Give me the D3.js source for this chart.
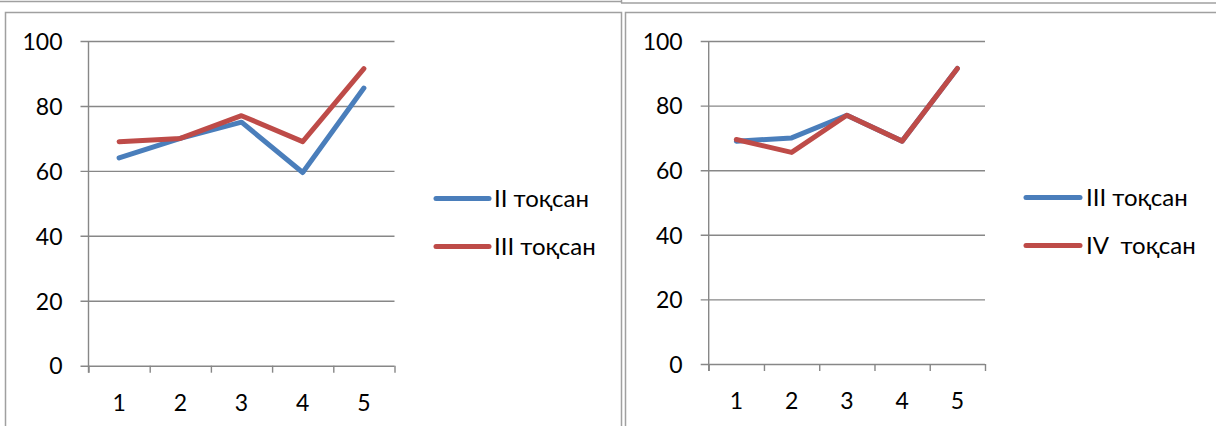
<!DOCTYPE html>
<html>
<head>
<meta charset="utf-8">
<script src="https://cdn.jsdelivr.net/npm/d3@7"></script>
<style>
  html, body { margin: 0; padding: 0; background: #fff; }
  svg { display: block; }
  text { font-family: Lato, "Noto Sans", sans-serif; fill: #000; }
</style>
</head>
<body>
<svg id="chart" width="1216" height="426"></svg>
<script>
// ---- data ----
const categories = ["1", "2", "3", "4", "5"];
const yTicks = [0, 20, 40, 60, 80, 100];
const leftSeriesNames = ["II тоқсан", "III тоқсан"];
const leftII = [64, 70, 75, 59.5, 85.5];
const leftIII = [69, 70, 77, 69, 91.5];
const rightSeriesNames = ["III тоқсан", "IV  тоқсан"];
const rightIII = [69, 70, 77, 69, 91.5];
const rightIV = [69.5, 65.5, 77, 69, 91.5];

const BLUE = "#4a7ebb";
const RED = "#be4b48";
const GRID = "#878787";
const FRAME = "#a0a0a0";

const svg = d3.select("#chart");

// ---- frames ----
const frames = svg.append("g").attr("fill", "none").attr("stroke", FRAME).attr("stroke-width", 1.5);
frames.append("line").attr("x1", 0).attr("x2", 621).attr("y1", 1.5).attr("y2", 1.5);
frames.append("line").attr("x1", 621.5).attr("x2", 621.5).attr("y1", 0).attr("y2", 3);
frames.append("line").attr("x1", 621).attr("x2", 1216).attr("y1", 3).attr("y2", 3);
frames.append("path").attr("d", "M5.5,430 V12.5 H621.5 V430");
frames.append("path").attr("d", "M625.5,430 V12.5 H1220");

function drawChart(cfg) {
  const g = svg.append("g");
  const x = d3.scaleBand().domain(categories).range([cfg.x0, cfg.x1]).padding(0);
  const xb = d3.scaleLinear().domain([0, categories.length]).range([cfg.x0, cfg.x1]);
  const y = d3.scaleLinear().domain([0, 100]).range([cfg.y0, cfg.y100]);

  // gridlines + y labels
  const yAxis = d3.axisLeft(y).tickValues(yTicks).tickSizeInner(-(cfg.x1 - cfg.x0)).tickSizeOuter(0).tickPadding(26);
  const ya = g.append("g").attr("transform", `translate(${cfg.x0},0)`).call(yAxis);
  ya.select(".domain").remove();
  ya.selectAll(".tick line").attr("x1", -8).attr("x2", cfg.x1 - cfg.x0)
    .attr("stroke", GRID).attr("stroke-width", 1.4);
  ya.selectAll(".tick text").style("font-family", "Lato, 'Noto Sans', sans-serif")
    .style("font-size", "23px").attr("fill", "#000").attr("dy", "0.36em");

  // vertical axis line
  g.append("line").attr("x1", cfg.x0).attr("x2", cfg.x0).attr("y1", y(100)).attr("y2", y(0) + 7)
    .attr("stroke", GRID).attr("stroke-width", 1.4);

  // x axis tick marks at boundaries
  const xTickAxis = d3.axisBottom(xb).tickValues(d3.range(categories.length + 1)).tickFormat("").tickSizeInner(7).tickSizeOuter(0);
  const xa = g.append("g").attr("transform", `translate(0,${cfg.y0})`).call(xTickAxis);
  xa.select(".domain").remove();
  xa.selectAll(".tick line").attr("stroke", GRID).attr("stroke-width", 1.4);

  // x labels
  const xLab = d3.axisBottom(x).tickSize(0).tickPadding(0);
  const xl = g.append("g").attr("transform", `translate(0,${cfg.labelY})`).call(xLab);
  xl.select(".domain").remove();
  xl.selectAll(".tick text").style("font-family", "Lato, 'Noto Sans', sans-serif")
    .style("font-size", "23px").attr("fill", "#000").attr("dy", "0.36em").attr("y", 0);

  // lines
  const line = d3.line().x((d, i) => x(categories[i]) + x.bandwidth() / 2).y(d => y(d));
  cfg.series.forEach((s, k) => {
    g.append("path").datum(s.values).attr("d", line)
      .attr("fill", "none").attr("stroke", s.color).attr("stroke-width", 5)
      .attr("stroke-linejoin", "round").attr("stroke-linecap", "round");
    // legend
    const ly = cfg.legendY[k];
    g.append("line").attr("x1", cfg.legX1).attr("x2", cfg.legX2).attr("y1", ly).attr("y2", ly)
      .attr("stroke", s.color).attr("stroke-width", 5).attr("stroke-linecap", "round");
    g.append("text").attr("x", cfg.legTextX).attr("y", ly).attr("dy", "0.34em")
      .style("font-size", "24px").style("white-space", "pre").attr("xml:space", "preserve").text(s.name);
  });
}

drawChart({
  x0: 88.5, x1: 394.5, y0: 365.7, y100: 41, labelY: 403,
  legX1: 436, legX2: 489, legTextX: 494, legendY: [198.5, 246.5],
  series: [
    { name: leftSeriesNames[0], values: leftII, color: BLUE },
    { name: leftSeriesNames[1], values: leftIII, color: RED }
  ]
});

drawChart({
  x0: 708.7, x1: 985, y0: 364, y100: 41, labelY: 401,
  legX1: 1026, legX2: 1080, legTextX: 1086, legendY: [197.5, 245.5],
  series: [
    { name: rightSeriesNames[0], values: rightIII, color: BLUE },
    { name: rightSeriesNames[1], values: rightIV, color: RED }
  ]
});
</script>
</body>
</html>
